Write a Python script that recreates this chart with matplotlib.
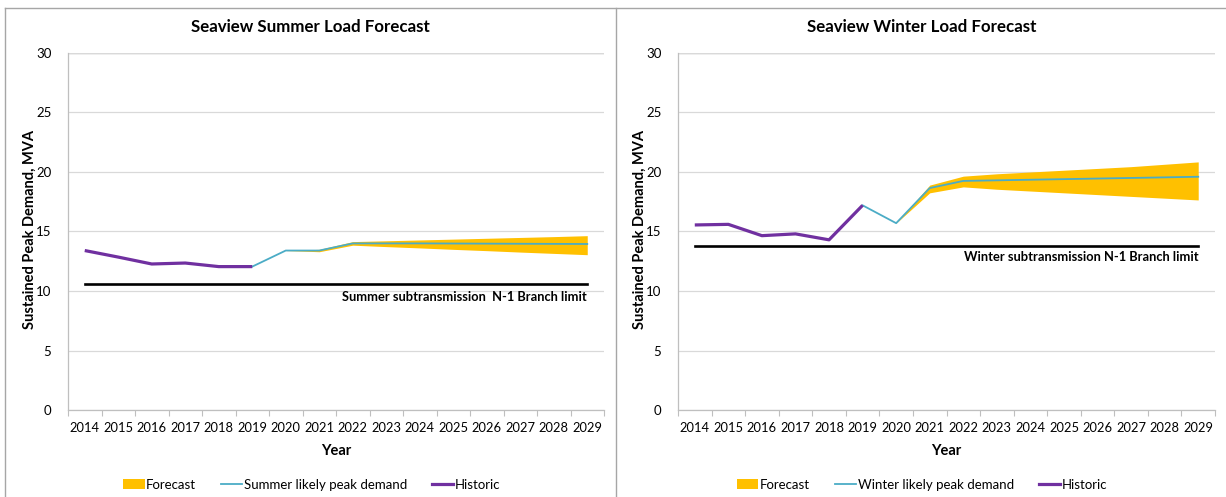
import matplotlib
matplotlib.use("Agg")
import matplotlib.pyplot as plt
from matplotlib.patches import Patch
from matplotlib.lines import Line2D
import numpy as np

plt.rcParams['font.family'] = ['Lato', 'DejaVu Sans']

years = [str(y) for y in range(2014, 2030)]

# Summer
summer_hist_years = list(range(2014, 2020))
summer_hist = [13.4, 12.85, 12.27, 12.35, 12.05, 12.05]
summer_likely_years = list(range(2019, 2030))
summer_likely = [12.05, 13.4, 13.4, 14.0, 14.0, 14.0, 13.99, 13.98, 13.97, 13.96, 13.95]
summer_band_years = list(range(2020, 2030))
summer_upper = [13.4, 13.5, 14.15, 14.22, 14.29, 14.36, 14.43, 14.5, 14.57, 14.65]
summer_lower = [13.4, 13.3, 13.85, 13.73, 13.62, 13.5, 13.39, 13.27, 13.16, 13.05]
summer_limit = 10.6

# Winter
winter_hist_years = list(range(2014, 2020))
winter_hist = [15.55, 15.6, 14.65, 14.8, 14.3, 17.2]
winter_likely_years = list(range(2019, 2030))
winter_likely = [17.2, 15.7, 18.65, 19.25, 19.3, 19.35, 19.4, 19.45, 19.5, 19.55, 19.6]
winter_band_years = list(range(2020, 2030))
winter_upper = [15.7, 18.9, 19.65, 19.85, 20.0, 20.15, 20.3, 20.45, 20.65, 20.85]
winter_lower = [15.7, 18.25, 18.75, 18.55, 18.4, 18.25, 18.1, 17.95, 17.8, 17.65]
winter_limit = 13.8

GOLD = '#FFC000'
CYAN = '#4BACC6'
PURPLE = '#7030A0'
GRID = '#D9D9D9'
AXIS = '#BFBFBF'
FRAME = '#A6A6A6'

W, H = 1226, 497
fig = plt.figure(figsize=(W / 100, H / 100), dpi=100)

# panel frames
def fline(xs, ys):
    fig.add_artist(Line2D([x / W for x in xs], [1 - y / H for y in ys],
                          transform=fig.transFigure, color=FRAME, linewidth=1.0))

fline([5.5, 5.5], [8, 500])
fline([615.5, 615.5], [7.5, 500])
fline([5.5, 1230], [7.5, 7.5])


def idx(yrs):
    return [y - 2014 for y in yrs]


def draw(ax_rect, title, hist_y, hist, lik_y, lik, band_y, up, lo, limit,
         limit_text, limit_text_y, likely_label, legend_cx, title_cx, ylabel_x):
    ax = fig.add_axes(ax_rect)
    ax.fill_between(idx(band_y), lo, up, color=GOLD, linewidth=0, zorder=2)
    ax.plot(idx(lik_y), lik, color=CYAN, linewidth=1.3, zorder=3)
    ax.plot(idx(hist_y), hist, color=PURPLE, linewidth=2.3, zorder=4,
            solid_capstyle='butt')
    ax.plot([0, 15], [limit, limit], color='black', linewidth=1.9, zorder=3)
    ax.text(15, limit_text_y, limit_text, ha='right', va='center',
            fontsize=9.3, fontweight='bold', color='black')

    ax.set_xlim(-0.5, 15.5)
    ax.set_ylim(0, 30)
    ax.set_yticks(range(0, 31, 5))
    ax.set_xticks(range(16))
    ax.set_xticklabels(years)
    ax.set_xticks(np.arange(-0.5, 16, 1), minor=True)
    ax.tick_params(axis='x', which='major', length=0, pad=9, labelsize=9.3)
    ax.tick_params(axis='x', which='minor', length=4, color=AXIS, width=0.8)
    ax.tick_params(axis='y', length=0, pad=12, labelsize=9.5)
    ax.grid(axis='y', color=GRID, linewidth=0.9, zorder=0)
    ax.set_axisbelow(True)
    for s in ['top', 'right']:
        ax.spines[s].set_visible(False)
    ax.spines['left'].set_color(AXIS)
    ax.spines['bottom'].set_color(AXIS)
    ax.spines['left'].set_linewidth(0.9)
    ax.spines['bottom'].set_linewidth(0.9)
    # top gridline at 30
    ax.axhline(30, color=AXIS, linewidth=1.0, zorder=0)

    fig.text(title_cx / W, 1 - 27 / H, title, ha='center', va='center',
             fontsize=12.2, fontweight='bold')
    fig.text(ylabel_x / W, 1 - 230 / H, 'Sustained Peak Demand, MVA', rotation=90,
             ha='center', va='center', fontsize=10.5, fontweight='bold')
    fig.text((ax_rect[0] + ax_rect[2] / 2), 1 - 451 / H, 'Year', ha='center',
             va='center', fontsize=10.5, fontweight='bold')

    handles = [Patch(facecolor=GOLD, edgecolor='none'),
               Line2D([], [], color=CYAN, linewidth=1.3),
               Line2D([], [], color=PURPLE, linewidth=2.3)]
    labels = ['Forecast', likely_label, 'Historic']
    fig.legend(handles, labels, loc='center', bbox_to_anchor=(legend_cx / W, 1 - 485 / H),
               ncol=3, frameon=False, fontsize=9.5, handlelength=1.6,
               handletextpad=0.12, columnspacing=1.9, handleheight=0.8)
    return ax


draw([68 / W, 1 - 410 / H, (604 - 68) / W, (410 - 53) / H],
     'Seaview Summer Load Forecast', summer_hist_years, summer_hist,
     summer_likely_years, summer_likely, summer_band_years, summer_upper, summer_lower,
     summer_limit, 'Summer subtransmission  N-1 Branch limit', 9.5,
     'Summer likely peak demand', 312, 310, 30)

draw([678 / W, 1 - 410 / H, (1215 - 678) / W, (410 - 53) / H],
     'Seaview Winter Load Forecast', winter_hist_years, winter_hist,
     winter_likely_years, winter_likely, winter_band_years, winter_upper, winter_lower,
     winter_limit, 'Winter subtransmission N-1 Branch limit', 12.85,
     'Winter likely peak demand', 922, 922, 640)

fig.savefig('out.png', dpi=100)
